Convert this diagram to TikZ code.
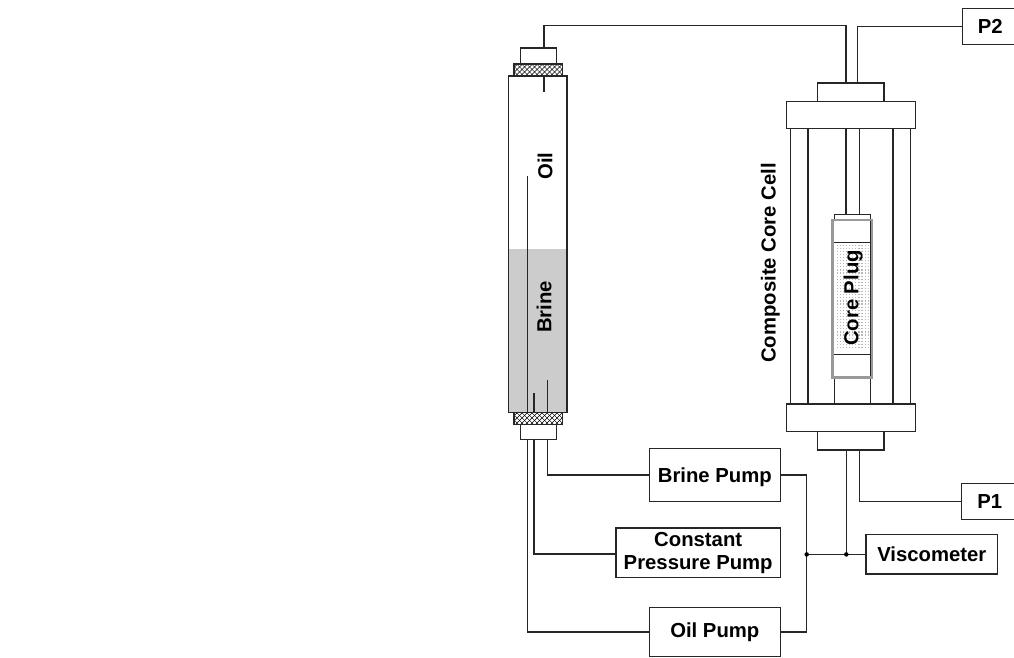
\documentclass[tikz,border=0pt]{standalone}
\usepackage{fontspec}
\setmainfont{Liberation Sans}
\tikzset{
  line/.style={draw=black!85,line width=1.2pt},
  part/.style={line,rectangle,fill=white,inner sep=0pt,outer sep=0pt},
  lab/.style={font=\fontsize{20.3}{23}\selectfont\bfseries,align=center,inner sep=0pt},
  labv/.style={lab,rotate=90},
  dot/.style={circle,fill=black,inner sep=0pt,minimum size=4.5pt},
  rod/.style={line,line width=1.1pt}
}
\begin{document}
\begin{tikzpicture}[x=1pt,y=-1pt]
\useasboundingbox (0,0) rectangle (1014,658);
% cylinder
\node[part,minimum width=58.3pt,minimum height=336.7pt] (cyl) at (537.85,244.35) {};
\fill[black!20] (509.3,249) rectangle (566.4,412.1);
\draw[line] (cyl.north west) rectangle (cyl.south east);
% pumps and instruments
\node[part,minimum width=131pt,minimum height=52.3pt,lab,text depth=0pt] (brinepump) at (714.8,475) {Brine Pump};
\node[part,minimum width=164.3pt,minimum height=49.3pt,lab] (constpump) at (698.2,552.65) {Constant\\Pressure Pump};
\node[part,minimum width=131pt,minimum height=49.4pt,lab] (oilpump) at (714.8,632) {Oil Pump};
\node[part,minimum width=131.7pt,minimum height=39.3pt,lab] (visc) at (931.85,554.4) {Viscometer};
\node[part,minimum width=57pt,minimum height=35.6pt,lab] (pone) at (989.8,501.5) {P1};
\node[part,minimum width=55pt,minimum height=36.4pt,lab] (ptwo) at (990.2,26.5) {P2};
% core cell
\node[part,minimum width=128.6pt,minimum height=27.4pt] (flangeTop) at (851,115) {};
\node[part,minimum width=128.6pt,minimum height=27.7pt] (flangeBot) at (851,417.85) {};
\node[part,minimum width=66.5pt,minimum height=18.3pt] (cellTop) at (850.7,92.15) {};
\node[part,minimum width=66.5pt,minimum height=18.3pt] (cellBot) at (850.7,440.85) {};
\foreach \x in {790.7,808,893,910.7}{
  \draw[rod] (\x,128.7) -- (\x,404);
}
\foreach \x in {846,859.3}{
  \draw[rod] (\x,128.7) -- (\x,214.3);
}
\node[part,minimum width=36pt,minimum height=189.7pt] (sleeve) at (852.3,309.15) {};
\fill[white] (834.3,220) rectangle (870.3,378);
\foreach \i in {0,...,10}{
  \foreach \j in {0,...,33}{
    \fill[black!28] (836.6+\i*3.1,244.5+\j*3.1) rectangle ++(1.2,1.2);
  }
}
\draw[line] (832.7,242.7) -- (872,242.7);
\draw[line] (832.7,354.7) -- (872,354.7);
\draw[draw=black!40,line width=2.6pt] (832.7,220) rectangle (872,377.7);
\node[labv] (plugtext) at (853.2,298) {Core Plug};
\node[labv] (celltext) at (770.3,263) {Composite Core Cell};
\node[labv] (oiltext) at (545,166) {Oil};
\node[labv] (brinetext) at (544,307) {Brine};
% connector anchors
\coordinate (capTopPort) at (544,48);
\coordinate (cellTopA) at (846,83);
\coordinate (cellTopB) at (857.3,83);
\coordinate (cellBotA) at (846.3,450);
\coordinate (cellBotB) at (859.3,450);
\coordinate (innerTop) at (544,76);
\coordinate (innerTopEnd) at (544,91.7);
\coordinate (oilTip) at (527.3,176);
\coordinate (constTip) at (534,393);
\coordinate (brineTip) at (547.3,380);
\coordinate (busA) at (806.7,554.4);
\coordinate (busB) at (846.3,554.4);
% connectors
\draw[line] (capTopPort) |- (846,25.7) -- (cellTopA);
\draw[line] (cellTopB) |- (ptwo.west);
\draw[line] (cellBotB) |- (pone.west);
\draw[line] (innerTop) -- (innerTopEnd);
\draw[line] (oilTip) |- (oilpump.west);
\draw[line] (constTip) |- ([yshift=-1.3pt]constpump.west);
\draw[line] (brineTip) |- (brinepump.west);
\draw[line] (brinepump.east) -| (busA) |- (oilpump.east);
\draw[line] (busA) -- (visc.west);
\draw[line] (cellBotA) -- (busB);
\node[dot] (dotA) at (busA) {};
\node[dot] (dotB) at (busB) {};
% knurled rings and caps, over the tubes
\foreach \nm/\cy in {knurlTop/70,knurlBot/418.5}{
  \begin{scope}
    \clip (514,\cy-6) rectangle (562.7,\cy+6);
    \fill[black] (514,\cy-6) rectangle (562.7,\cy+6);
    \foreach \i in {0,...,10}{
      \foreach \j in {-2,-1,0,1}{
        \fill[white] (512+\i*5,\cy+\j*5) -- ++(1.9,1.9) -- ++(-1.9,1.9) -- ++(-1.9,-1.9) -- cycle;
        \fill[white] (514.5+\i*5,\cy+\j*5+2.5) -- ++(1.9,1.9) -- ++(-1.9,1.9) -- ++(-1.9,-1.9) -- cycle;
      }
    }
  \end{scope}
  \node[line,rectangle,inner sep=0pt,minimum width=48.7pt,minimum height=12pt] (\nm) at (538.35,\cy) {};
}
\node[part,minimum width=36pt,minimum height=16pt] (capTop) at (538.7,56) {};
\node[part,minimum width=36pt,minimum height=15.4pt] (capBot) at (538.7,432) {};
\end{tikzpicture}
\end{document}
